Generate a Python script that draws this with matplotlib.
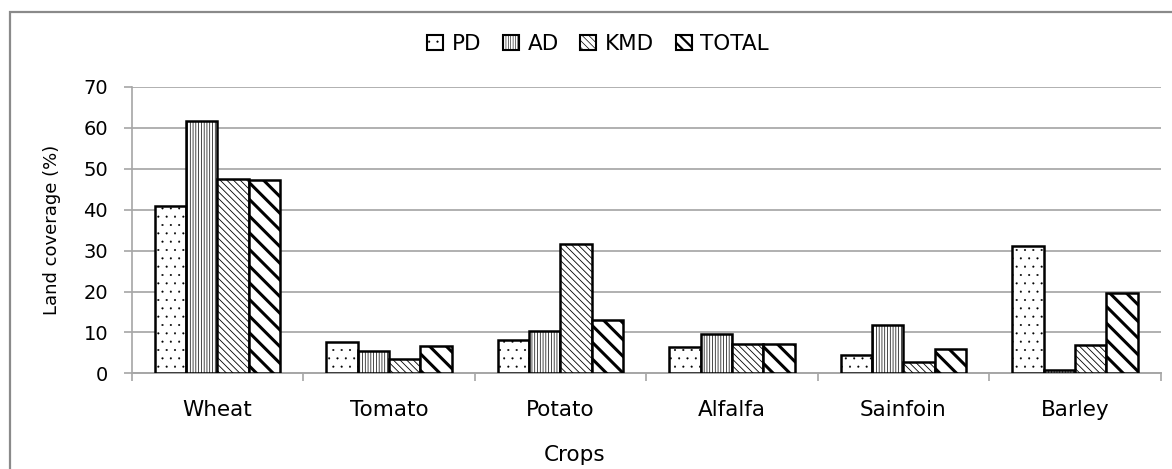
import matplotlib
matplotlib.use("Agg")
import matplotlib.pyplot as plt
import numpy as np
from matplotlib.patches import Rectangle

crops = ["Wheat", "Tomato", "Potato", "Alfalfa", "Sainfoin", "Barley"]
series_names = ["PD", "AD", "KMD", "TOTAL"]
pd_vals = [41.0, 7.7, 8.2, 6.5, 4.4, 31.2]
ad_vals = [61.6, 5.5, 10.3, 9.5, 11.7, 0.8]
kmd_vals = [47.4, 3.5, 31.6, 7.2, 2.7, 6.9]
total_vals = [47.2, 6.6, 13.1, 7.2, 5.9, 19.6]
yticks = [0, 10, 20, 30, 40, 50, 60, 70]

plt.rcParams['font.family'] = ['DejaVu Sans']
W, H = 1172, 469
fig = plt.figure(figsize=(W / 100, H / 100), dpi=100)
ax = fig.add_axes([131.7 / W, 1 - 373.3 / H, (1160.7 - 131.7) / W, (373.3 - 87) / H])

styles = [
    dict(hatch="..", hlw=0.25),
    dict(hatch="||||||", hlw=0.5),
    dict(hatch="\\\\\\\\\\", hlw=0.6),
    dict(hatch="\\\\", hlw=2.2),
]
data = [pd_vals, ad_vals, kmd_vals, total_vals]
x = np.arange(len(crops))
bw = 0.183
handles = []
for i, (name, vals, st) in enumerate(zip(series_names, data, styles)):
    plt.rcParams['hatch.linewidth'] = st["hlw"]
    bars = ax.bar(x + (i - 1.5) * bw, vals, width=bw, color="white",
                  edgecolor="black", linewidth=1.8, hatch=st["hatch"],
                  label=name, zorder=3)
    for b in bars:
        try:
            b.set_hatch_linewidth(st["hlw"])
        except Exception:
            pass
    handles.append(bars)

ax.set_xlim(-0.5, len(crops) - 0.5)
ax.set_ylim(0, 70)
ax.set_yticks(yticks)
ax.tick_params(axis="y", labelsize=14, length=6, color="#a6a6a6", width=1.2, pad=11)
ax.set_xticks(x)
ax.set_xticklabels(crops)
ax.tick_params(axis="x", which="major", length=0, labelsize=15.5, pad=19)
ax.set_xticks(np.arange(len(crops) + 1) - 0.5, minor=True)
ax.tick_params(axis="x", which="minor", length=6, color="#a6a6a6", width=1.2)
ax.grid(axis="y", color="#b0b0b0", linewidth=1.4, zorder=0)
for s in ["top", "right"]:
    ax.spines[s].set_visible(False)
ax.spines["left"].set_color("#a6a6a6")
ax.spines["left"].set_linewidth(1.2)
ax.spines["bottom"].set_color("#a6a6a6")
ax.spines["bottom"].set_linewidth(1.4)

ax.set_ylabel("Land coverage (%)", fontsize=13)
ax.yaxis.set_label_coords((61 - 131.7) / (1160.7 - 131.7), 0.5)
fig.text(575 / W, 1 - 455 / H, "Crops", fontsize=15.5, ha="center", va="center")

leg = fig.legend(handles=handles, labels=series_names, loc="center",
                 bbox_to_anchor=(598 / W, 1 - 44 / H), ncol=4, frameon=False,
                 fontsize=15.5, handlelength=0.75, handleheight=0.7,
                 handletextpad=0.4, columnspacing=1.0, borderaxespad=0)
leg_hatches = ["..", "|||||||", "\\\\\\\\\\", "\\\\\\"]
leg_hlw = [0.3, 0.4, 0.5, 1.6]
for h, ht, lw in zip(leg.legend_handles, leg_hatches, leg_hlw):
    h.set_hatch(ht)
    h.set_linewidth(1.5)
    try:
        h.set_hatch_linewidth(lw)
    except Exception:
        pass

fig.add_artist(Rectangle((10 / W, -0.1), 1.2, (H - 12) / H + 0.1,
                         transform=fig.transFigure, fill=False,
                         edgecolor="#8a8a8a", linewidth=1.6))

fig.savefig("out.png", dpi=100)
